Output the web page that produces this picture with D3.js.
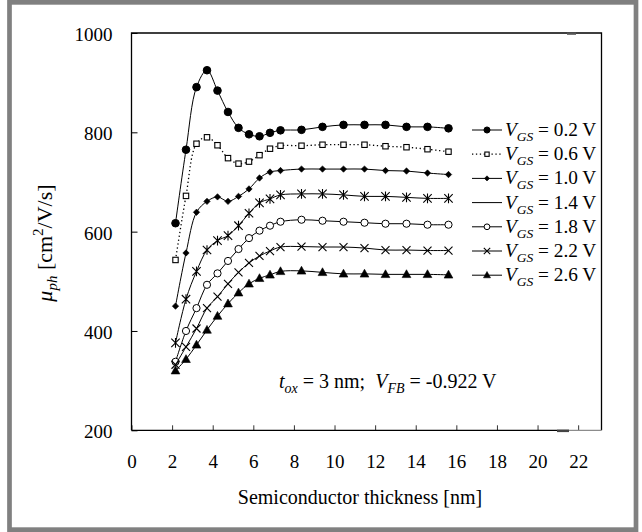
<!DOCTYPE html>
<html>
<head>
<meta charset="utf-8">
<script src="https://cdn.jsdelivr.net/npm/d3@7"></script>
<style>
  html, body { margin: 0; padding: 0; background: #fff; }
  svg { display: block; }
  svg text { font-family: "Liberation Serif", "Times New Roman", Times, "DejaVu Serif", serif; fill: #000; }
</style>
</head>
<body>
<svg id="chart" width="642" height="532"></svg>
<script>
// Semiconductor thickness [nm]
const thickness = [2, 2.5, 3, 3.5, 4, 4.5, 5, 5.5, 6, 6.5, 7, 8, 9, 10, 11, 12, 13, 14, 15];

// Phonon-limited mobility [cm^2/V/s] for each gate voltage
const mu02 = [617, 765, 891, 925, 884, 841, 809, 796, 792, 799, 804, 805, 811, 815, 815, 815, 811, 811, 808];
const mu06 = [543, 672, 777, 790, 774, 748, 737, 741, 754, 767, 773, 773, 775, 775, 775, 772, 770, 766, 761];
const mu10 = [450, 557, 639, 661, 670, 661, 671, 686, 708, 720, 723, 726, 726, 726, 726, 723, 722, 718, 715];
const mu14 = [376, 464, 520, 563, 582, 592, 612, 637, 658, 666, 674, 676, 676, 674, 671, 671, 669, 667, 667];
const mu18 = [338, 400, 446, 493, 516, 541, 565, 587, 602, 612, 620, 624, 622, 620, 618, 616, 616, 614, 614];
const mu22 = [332, 368, 405, 446, 469, 495, 518, 537, 551, 561, 569, 570, 569, 569, 567, 563, 563, 562, 562];
const mu26 = [320, 343, 372, 402, 430, 455, 477, 495, 506, 513, 520, 521, 518, 515, 515, 514, 514, 514, 513];

const gateVoltages = ["0.2", "0.6", "1.0", "1.4", "1.8", "2.2", "2.6"];
const xTicks = [0, 2, 4, 6, 8, 10, 12, 14, 16, 18, 20, 22];
const yTicks = [200, 400, 600, 800, 1000];

const seriesValues = [mu02, mu06, mu10, mu14, mu18, mu22, mu26];
// marker style per series: shape, fill, line dash
const seriesStyle = [
  { marker: "circle", fill: true, size: 3.8, dash: null, legendMarker: true },
  { marker: "square", fill: false, size: 5.4, dash: "1.3,2.6", legendMarker: true },
  { marker: "diamond", fill: true, size: 3.2, dash: null, legendMarker: true },
  { marker: "asterisk", fill: false, size: 4.2, dash: null, legendMarker: false },
  { marker: "circle", fill: false, size: 3.6, dash: null, legendMarker: true },
  { marker: "cross", fill: false, size: 4.0, dash: null, legendMarker: true },
  { marker: "triangle", fill: true, size: 4.6, dash: null, legendMarker: true }
];

const svg = d3.select("#chart");

// outer picture border
svg.append("rect")
  .attr("x", 9.5).attr("y", 2.35)
  .attr("width", 626.5).attr("height", 527.3)
  .attr("fill", "none").attr("stroke", "#808080").attr("stroke-width", 4.7);

const plot = { left: 131.5, right: 601.5, top: 33, bottom: 430.3 };
// thickness scale for the curves
const x = d3.scaleLinear().domain([0, 23]).range([133.5, 616.5]);
// thickness scale for the axis ticks and labels
const xAxisScale = d3.scaleLinear().domain([0, 23.15]).range([plot.left, plot.right]);
const y = d3.scaleLinear().domain([200, 1000]).range([plot.bottom, plot.top]);

// axes with inward ticks
const xAxis = d3.axisBottom(xAxisScale).tickValues(xTicks).tickSizeInner(-5).tickSizeOuter(0).tickFormat(d3.format("d"));
const gx = svg.append("g").attr("transform", `translate(0,${plot.bottom})`).call(xAxis);
gx.select(".domain").remove();
gx.selectAll(".tick line").attr("stroke", "#333").attr("stroke-width", 1);
gx.selectAll(".tick text")
  .attr("y", 38).attr("dy", 0)
  .style("font-size", "19px");

const yAxis = d3.axisLeft(y).tickValues(yTicks).tickSizeInner(-6).tickSizeOuter(0).tickFormat(d3.format("d"));
const gy = svg.append("g").attr("transform", `translate(${plot.left},0)`).call(yAxis);
gy.select(".domain").remove();
gy.selectAll(".tick line").attr("stroke", "#000").attr("stroke-width", 1);
gy.selectAll(".tick text")
  .attr("x", -19).attr("dy", "0.4em")
  .style("font-size", "19px");

// plot frame
const frame = svg.append("g").attr("stroke-width", 1.3).attr("fill", "none");
frame.append("path").attr("stroke", "#000")
  .attr("d", `M${plot.left},${plot.bottom}V${plot.top}H${plot.right}V${plot.bottom}`);
frame.append("path").attr("stroke", "#000")
  .attr("d", `M${plot.left},${plot.bottom}H569`);
frame.append("path").attr("stroke", "#8c8c8c")
  .attr("d", `M569,${plot.bottom}H${plot.right}`);
// small heavier joins on the frame edges
svg.append("rect").attr("x", 567).attr("y", plot.top - 0.6).attr("width", 9).attr("height", 2.4).attr("fill", "#555");
svg.append("rect").attr("x", 557).attr("y", plot.bottom - 0.6).attr("width", 12).attr("height", 2.4).attr("fill", "#444");

// marker drawing
function drawMarker(g, style, cx, cy, scale) {
  const s = style.size * (scale || 1);
  const stroke = "#000";
  switch (style.marker) {
    case "circle":
      g.append("circle").attr("cx", cx).attr("cy", cy).attr("r", s)
        .attr("fill", style.fill ? "#000" : "#fff").attr("stroke", stroke).attr("stroke-width", 1);
      break;
    case "square":
      g.append("rect").attr("x", cx - s / 2).attr("y", cy - s / 2).attr("width", s).attr("height", s)
        .attr("fill", "#fff").attr("stroke", stroke).attr("stroke-width", 1.1);
      break;
    case "diamond":
      g.append("path").attr("d", `M${cx},${cy - s}L${cx + s},${cy}L${cx},${cy + s}L${cx - s},${cy}Z`)
        .attr("fill", "#000").attr("stroke", stroke).attr("stroke-width", 0.6);
      break;
    case "asterisk":
      g.append("path").attr("d",
        `M${cx - s},${cy - s}L${cx + s},${cy + s}M${cx - s},${cy + s}L${cx + s},${cy - s}M${cx},${cy - s * 1.15}L${cx},${cy + s * 1.15}`)
        .attr("fill", "none").attr("stroke", stroke).attr("stroke-width", 1.1);
      break;
    case "cross":
      g.append("path").attr("d", `M${cx - s},${cy - s}L${cx + s},${cy + s}M${cx - s},${cy + s}L${cx + s},${cy - s}`)
        .attr("fill", "none").attr("stroke", stroke).attr("stroke-width", 1.1);
      break;
    case "triangle":
      g.append("path").attr("d", `M${cx},${cy - s}L${cx + s * 0.95},${cy + s * 0.7}L${cx - s * 0.95},${cy + s * 0.7}Z`)
        .attr("fill", "#000").attr("stroke", stroke).attr("stroke-width", 0.6);
      break;
  }
}

const line = d3.line()
  .x(d => x(d[0]))
  .y(d => y(d[1]))
  .curve(d3.curveCatmullRom.alpha(0.5));

const seriesG = svg.append("g");
seriesValues.forEach((vals, i) => {
  const pts = thickness.map((t, k) => [t, vals[k]]);
  const st = seriesStyle[i];
  const g = seriesG.append("g");
  g.append("path").attr("d", line(pts))
    .attr("fill", "none").attr("stroke", "#000")
    .attr("stroke-width", st.dash ? 1.3 : 1)
    .attr("stroke-dasharray", st.dash);
  pts.forEach(p => drawMarker(g, st, x(p[0]), y(p[1]), 1));
});

// legend
const legend = svg.append("g");
gateVoltages.forEach((v, i) => {
  const ly = 130 + 24.2 * i;
  const st = seriesStyle[i];
  legend.append("line").attr("x1", 472).attr("x2", 502).attr("y1", ly).attr("y2", ly)
    .attr("stroke", "#000").attr("stroke-width", st.dash ? 1.3 : 1)
    .attr("stroke-dasharray", st.dash);
  if (st.legendMarker) drawMarker(legend, st, 487, ly, 0.8);
  const t = legend.append("text").attr("x", 505).attr("y", ly + 6).style("font-size", "19.3px");
  t.append("tspan").style("font-style", "italic").text("V");
  t.append("tspan").style("font-style", "italic").style("font-size", "13.5px").attr("dy", 5).text("GS");
  t.append("tspan").attr("dy", -5).text(" = " + v + " V");
});

// simulation parameters annotation
const note = svg.append("text").attr("x", 279).attr("y", 388).style("font-size", "20px");
note.append("tspan").style("font-style", "italic").text("t");
note.append("tspan").style("font-style", "italic").style("font-size", "14px").attr("dy", 5).text("ox");
note.append("tspan").attr("dy", -5).text(" = 3 nm;\u00A0\u00A0");
note.append("tspan").style("font-style", "italic").text("V");
note.append("tspan").style("font-style", "italic").style("font-size", "14px").attr("dy", 5).text("FB");
note.append("tspan").attr("dy", -5).text(" = -0.922 V");

// axis titles
svg.append("text")
  .attr("x", 360).attr("y", 504)
  .attr("text-anchor", "middle").style("font-size", "20px")
  .text("Semiconductor thickness [nm]");

const yl = svg.append("text")
  .attr("transform", "translate(52,243) rotate(-90)")
  .attr("text-anchor", "middle").style("font-size", "22px");
yl.append("tspan").style("font-style", "italic").text("\u03BC");
yl.append("tspan").style("font-style", "italic").style("font-size", "15px").attr("dy", 5).text("ph");
yl.append("tspan").attr("dy", -5).text(" [cm");
yl.append("tspan").style("font-size", "15px").attr("dy", -9).text("2");
yl.append("tspan").attr("dy", 9).text("/V/s]");
</script>
</body>
</html>
